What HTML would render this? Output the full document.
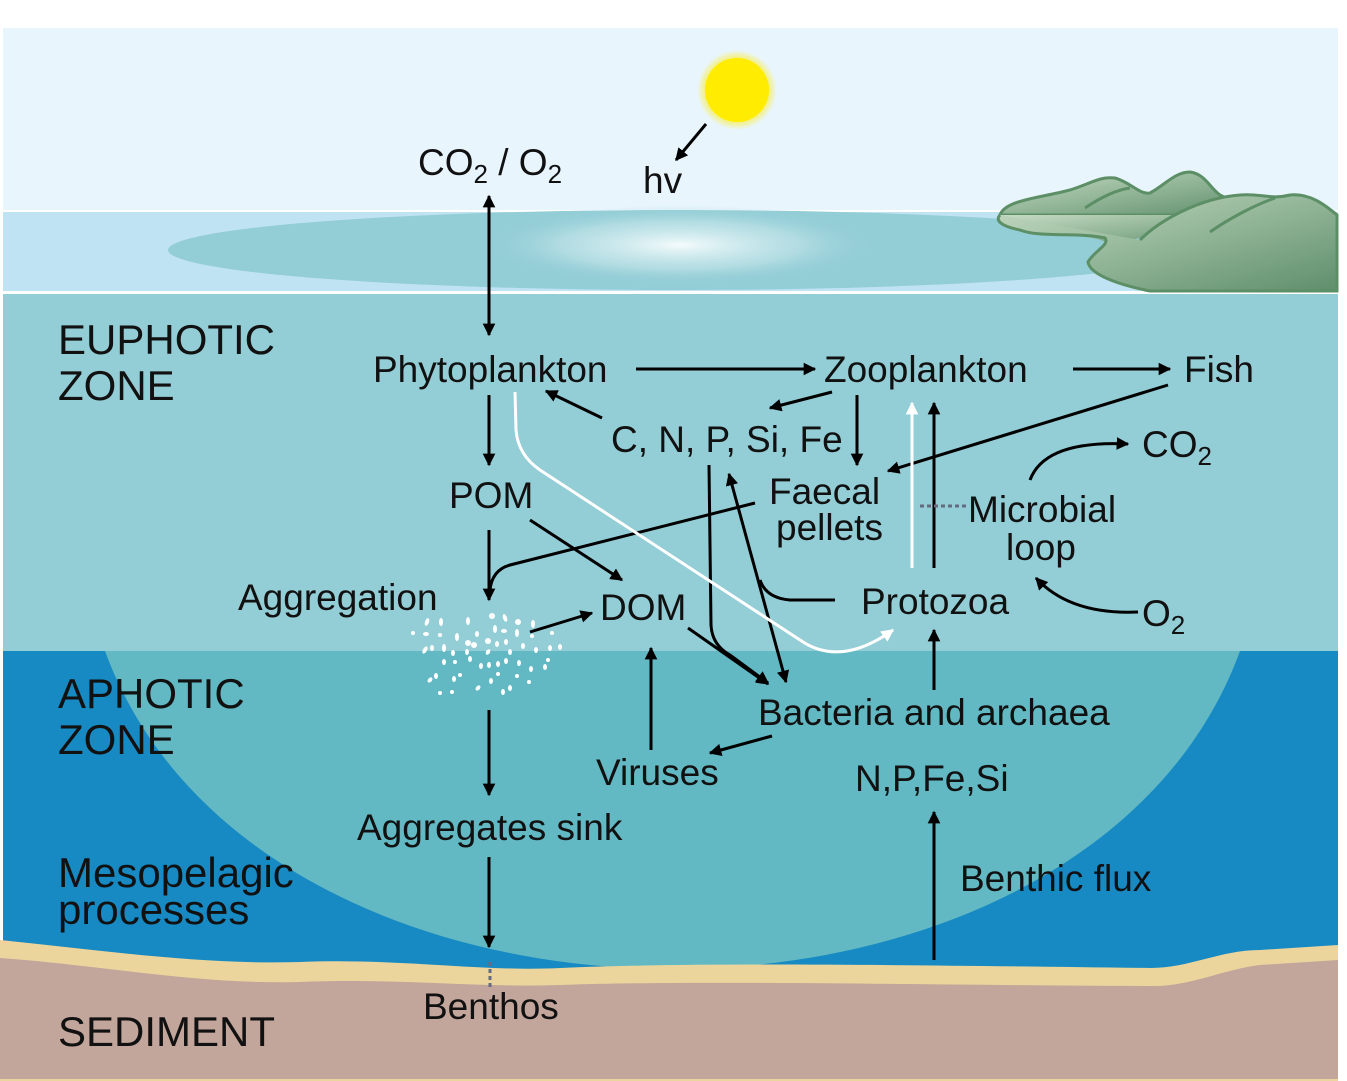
<!DOCTYPE html>
<html><head><meta charset="utf-8"><style>
html,body{margin:0;padding:0;background:#fff;}
svg{display:block;}
text{font-family:"Liberation Sans",sans-serif;font-size:37px;fill:#111;}
.z{font-size:42px;}
</style></head><body>
<svg width="1347" height="1081" viewBox="0 0 1347 1081" xmlns="http://www.w3.org/2000/svg">
<defs>
<marker id="a" viewBox="0 0 10 10" refX="9" refY="5" markerWidth="4.2" markerHeight="4.2" orient="auto-start-reverse" markerUnits="strokeWidth"><path d="M0,0 L10,5 L0,10 z" fill="#000"/></marker>
<marker id="w" viewBox="0 0 10 10" refX="9" refY="5" markerWidth="4.2" markerHeight="4.2" orient="auto" markerUnits="strokeWidth"><path d="M0,0 L10,5 L0,10 z" fill="#fff"/></marker>
<radialGradient id="glow" cx="0.5" cy="0.5" r="0.5"><stop offset="0" stop-color="#f4fbfc"/><stop offset="0.6" stop-color="#c5e6ea" stop-opacity="0.6"/><stop offset="1" stop-color="#93cdd6" stop-opacity="0"/></radialGradient>
<radialGradient id="sun" cx="0.5" cy="0.5" r="0.5"><stop offset="0.6" stop-color="#ffec00"/><stop offset="1" stop-color="#ffec00" stop-opacity="0"/></radialGradient>
<linearGradient id="hill" x1="0" y1="0" x2="1" y2="1"><stop offset="0" stop-color="#c6dcc4"/><stop offset="1" stop-color="#5f8f6c"/></linearGradient>
</defs>
<rect x="0" y="0" width="1347" height="1081" fill="#fff"/>
<rect x="3" y="28" width="1335" height="182" fill="#e9f5fd"/>
<rect x="3" y="212" width="1335" height="79" fill="#bfe3f3"/>
<ellipse cx="680" cy="250" rx="512" ry="40" fill="#93cdd6"/>
<ellipse cx="680" cy="245" rx="200" ry="40" fill="url(#glow)"/>
<!-- hills -->
<path d="M1000,215 C1005,200 1040,198 1070,190 C1090,184 1100,176 1115,178 C1130,182 1140,195 1150,193 C1165,185 1175,172 1190,172 C1205,174 1210,188 1220,195 C1240,205 1250,210 1240,215 Z" fill="url(#hill)" stroke="#5c8f66" stroke-width="3"/>
<path d="M1000,215 C1010,228 1040,235 1070,235 C1095,238 1110,240 1105,246 L1240,215 Z" fill="url(#hill)"/>
<path d="M1140,240 C1160,220 1200,198 1240,195 C1260,193 1270,200 1290,195 C1310,193 1325,205 1337,215 L1337,291 L1150,291 C1120,285 1090,275 1088,262 C1095,250 1110,245 1105,238 C1080,232 1040,238 1020,230 C1000,226 995,220 1000,215" fill="url(#hill)" stroke="#5c8f66" stroke-width="3"/>
<path d="M1085,208 C1100,198 1115,190 1130,188 M1210,232 C1230,218 1255,205 1275,198" fill="none" stroke="#5c8f66" stroke-width="3"/>
<rect x="3" y="294" width="1335" height="357" fill="#93cdd6"/>
<rect x="3" y="651" width="1335" height="320" fill="#1789c3"/>
<path d="M105,651 C260,1075 1085,1075 1240,651 Z" fill="#62b9c3"/>
<path d="M0,940 C100,950 200,965 300,962 C400,958 480,972 560,968 C700,962 900,965 1150,968 C1190,968 1220,950 1260,950 L1338,945 L1338,1081 L0,1081 Z" fill="#ebd59c"/>
<path d="M0,958 C100,965 200,985 300,982 C400,978 480,988 560,985 C700,980 900,985 1150,986 C1190,987 1220,970 1260,965 L1338,960 L1338,1079 L0,1079 Z" fill="#c2a59b"/>
<!-- sun -->
<circle cx="737" cy="90" r="40" fill="url(#sun)"/>
<circle cx="737" cy="90" r="32" fill="#ffec00"/>
<g stroke="#000" stroke-width="3" fill="none">
<line x1="706" y1="124" x2="676" y2="160" marker-end="url(#a)"/>
<line x1="489" y1="196" x2="489" y2="335" marker-start="url(#a)" marker-end="url(#a)"/>
<line x1="636" y1="369" x2="815" y2="369" marker-end="url(#a)"/>
<line x1="1073" y1="369" x2="1170" y2="369" marker-end="url(#a)"/>
<line x1="602" y1="418" x2="546" y2="391" marker-end="url(#a)"/>
<line x1="832" y1="392" x2="770" y2="408" marker-end="url(#a)"/>
<line x1="857" y1="395" x2="857" y2="465" marker-end="url(#a)"/>
<line x1="1168" y1="385" x2="888" y2="471" marker-end="url(#a)"/>
<line x1="489" y1="395" x2="489" y2="465" marker-end="url(#a)"/>
<line x1="489" y1="530" x2="489" y2="600" marker-end="url(#a)"/>
<path d="M755,503 L510,565 Q492,570 490,590"/>
<line x1="530" y1="520" x2="622" y2="580" marker-end="url(#a)"/>
<line x1="530" y1="632" x2="592" y2="613" marker-end="url(#a)"/>
<path d="M709,465 L711,625 Q712,645 730,655 L768,683" marker-end="url(#a)"/>
<line x1="688" y1="628" x2="768" y2="684" marker-end="url(#a)"/>
<line x1="729" y1="474" x2="786" y2="682" marker-start="url(#a)" marker-end="url(#a)"/>
<path d="M835,600 L790,600 Q766,598 760,580"/>
<line x1="934" y1="568" x2="934" y2="403" marker-end="url(#a)"/>
<path d="M1030,480 Q1045,440 1128,444" marker-end="url(#a)"/>
<path d="M1138,612 Q1070,615 1036,578" marker-end="url(#a)"/>
<line x1="934" y1="690" x2="934" y2="630" marker-end="url(#a)"/>
<line x1="772" y1="736" x2="710" y2="753" marker-end="url(#a)"/>
<line x1="651" y1="750" x2="651" y2="648" marker-end="url(#a)"/>
<line x1="489" y1="710" x2="489" y2="795" marker-end="url(#a)"/>
<line x1="489" y1="857" x2="489" y2="947" marker-end="url(#a)"/>
<line x1="934" y1="960" x2="934" y2="812" marker-end="url(#a)"/>
</g>
<g stroke="#fff" stroke-width="3" fill="none">
<path d="M515,392 L516,430 Q518,455 540,470 L800,640 Q840,668 893,630" marker-end="url(#w)"/>
<line x1="912" y1="568" x2="912" y2="403" marker-end="url(#w)"/>
</g>
<line x1="920" y1="506" x2="966" y2="506" stroke="#666a80" stroke-width="3" stroke-dasharray="4,3"/>
<line x1="490" y1="962" x2="490" y2="990" stroke="#666a80" stroke-width="3" stroke-dasharray="4,3"/>
<!-- particles -->
<g fill="#fff">
<ellipse cx="427" cy="622" rx="2" ry="4" transform="rotate(20 427 622)"/><ellipse cx="441" cy="622" rx="2" ry="4"/><ellipse cx="468" cy="621" rx="2" ry="4"/><ellipse cx="492" cy="616" rx="3" ry="3"/><ellipse cx="505" cy="618" rx="2" ry="4" transform="rotate(-20 505 618)"/><ellipse cx="518" cy="622" rx="3" ry="3"/><ellipse cx="533" cy="624" rx="2" ry="4"/><ellipse cx="413" cy="633" rx="2" ry="2"/><ellipse cx="426" cy="634" rx="3" ry="2"/><ellipse cx="440" cy="635" rx="2" ry="2"/><ellipse cx="457" cy="637" rx="2" ry="4"/><ellipse cx="477" cy="634" rx="2" ry="3"/><ellipse cx="495" cy="629" rx="2" ry="4"/><ellipse cx="504" cy="631" rx="3" ry="2"/><ellipse cx="517" cy="633" rx="2" ry="4"/><ellipse cx="532" cy="636" rx="2" ry="2"/><ellipse cx="552" cy="633" rx="2" ry="2"/><ellipse cx="425" cy="650" rx="2" ry="4" transform="rotate(30 425 650)"/><ellipse cx="432" cy="648" rx="2" ry="3"/><ellipse cx="444" cy="648" rx="2" ry="4"/><ellipse cx="468" cy="643" rx="3" ry="3"/><ellipse cx="474" cy="645" rx="3" ry="3"/><ellipse cx="488" cy="641" rx="3" ry="3"/><ellipse cx="497" cy="644" rx="2" ry="3"/><ellipse cx="506" cy="642" rx="2" ry="3"/><ellipse cx="523" cy="646" rx="2" ry="3"/><ellipse cx="536" cy="650" rx="2" ry="3"/><ellipse cx="550" cy="648" rx="2" ry="3"/><ellipse cx="560" cy="647" rx="2" ry="3"/><ellipse cx="453" cy="653" rx="2" ry="3"/><ellipse cx="467" cy="652" rx="2" ry="3"/><ellipse cx="488" cy="652" rx="2" ry="3" transform="rotate(30 488 652)"/><ellipse cx="510" cy="652" rx="2" ry="3"/><ellipse cx="444" cy="662" rx="2" ry="3"/><ellipse cx="455" cy="662" rx="2" ry="2"/><ellipse cx="470" cy="659" rx="2" ry="3"/><ellipse cx="481" cy="666" rx="2" ry="3"/><ellipse cx="489" cy="665" rx="2" ry="3"/><ellipse cx="498" cy="664" rx="2" ry="3"/><ellipse cx="506" cy="661" rx="2" ry="3"/><ellipse cx="519" cy="663" rx="2" ry="3"/><ellipse cx="531" cy="669" rx="2" ry="3"/><ellipse cx="545" cy="667" rx="2" ry="3"/><ellipse cx="430" cy="680" rx="2" ry="3" transform="rotate(40 430 680)"/><ellipse cx="436" cy="676" rx="2" ry="3"/><ellipse cx="454" cy="679" rx="2" ry="3"/><ellipse cx="460" cy="675" rx="2" ry="2"/><ellipse cx="491" cy="681" rx="2" ry="3"/><ellipse cx="498" cy="674" rx="2" ry="2"/><ellipse cx="517" cy="676" rx="2" ry="2"/><ellipse cx="529" cy="682" rx="2" ry="2"/><ellipse cx="440" cy="693" rx="2" ry="2"/><ellipse cx="452" cy="692" rx="2" ry="2"/><ellipse cx="478" cy="688" rx="2" ry="3" transform="rotate(40 478 688)"/><ellipse cx="503" cy="692" rx="2" ry="3"/><ellipse cx="510" cy="688" rx="2" ry="3"/><ellipse cx="548" cy="660" rx="2" ry="2"/>
</g>
<!-- labels -->
<text x="418" y="175">CO<tspan font-size="26" dy="8">2</tspan><tspan dy="-8"> / O</tspan><tspan font-size="26" dy="8">2</tspan></text>
<text x="643" y="193">hv</text>
<text x="58" y="354" class="z">EUPHOTIC</text>
<text x="58" y="400" class="z">ZONE</text>
<text x="373" y="382">Phytoplankton</text>
<text x="824" y="382">Zooplankton</text>
<text x="1184" y="382">Fish</text>
<text x="611" y="452">C, N, P, Si, Fe</text>
<text x="1142" y="457">CO<tspan font-size="26" dy="8">2</tspan></text>
<text x="449" y="508">POM</text>
<text x="769" y="504">Faecal</text>
<text x="776" y="540">pellets</text>
<text x="968" y="522">Microbial</text>
<text x="1006" y="560">loop</text>
<text x="238" y="610">Aggregation</text>
<text x="600" y="620">DOM</text>
<text x="861" y="614">Protozoa</text>
<text x="1142" y="626">O<tspan font-size="26" dy="8">2</tspan></text>
<text x="58" y="708" class="z">APHOTIC</text>
<text x="58" y="754" class="z">ZONE</text>
<text x="758" y="725">Bacteria and archaea</text>
<text x="596" y="785">Viruses</text>
<text x="855" y="791">N,P,Fe,Si</text>
<text x="357" y="840">Aggregates sink</text>
<text x="58" y="887" class="z">Mesopelagic</text>
<text x="58" y="924" class="z">processes</text>
<text x="960" y="891">Benthic flux</text>
<text x="423" y="1019">Benthos</text>
<text x="58" y="1046" class="z">SEDIMENT</text>
</svg>
</body></html>
